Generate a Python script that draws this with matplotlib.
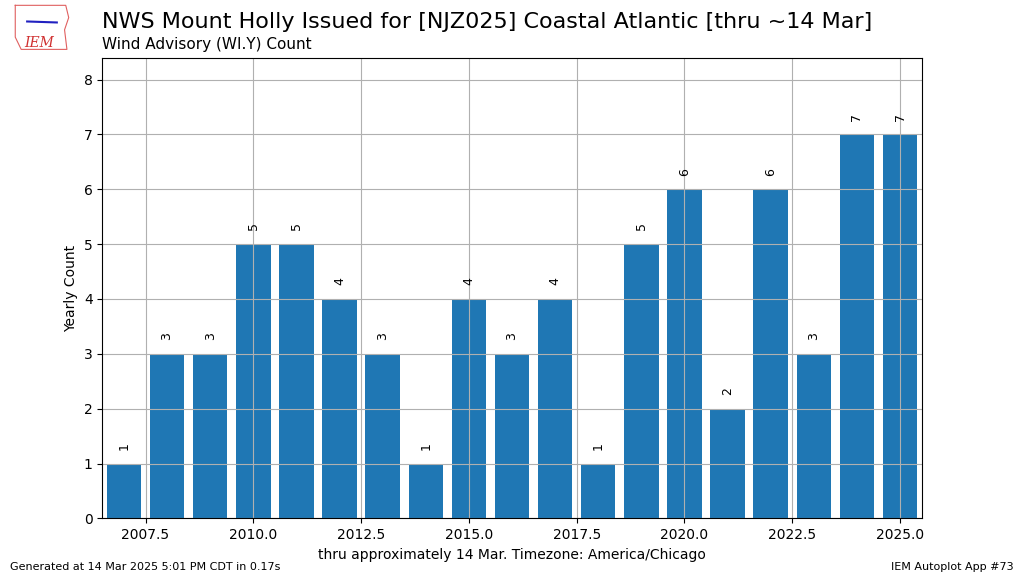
import matplotlib
matplotlib.use("Agg")
import matplotlib.pyplot as plt

# Yearly Wind Advisory counts
years = [2007, 2008, 2009, 2010, 2011, 2012, 2013, 2014, 2015, 2016,
         2017, 2018, 2019, 2020, 2021, 2022, 2023, 2024, 2025]
counts = [1, 3, 3, 5, 5, 4, 3, 1, 4, 3, 4, 1, 5, 6, 2, 6, 3, 7, 7]

fig = plt.figure(figsize=(10.24, 5.76), dpi=100)
ax = fig.add_axes([0.1, 0.1, 0.8, 0.8])

ax.bar(years, counts, width=0.8, color="#1f77b4")
for yr, val in zip(years, counts):
    ax.text(yr, val + 0.25, f"{val}", rotation=90, ha="center", va="bottom", fontsize=9)

ax.set_xlim(2006.5, 2025.5)
ax.set_ylim(0, max(counts) * 1.2)
ax.grid(True)
ax.set_ylabel("Yearly Count")
ax.set_xlabel("thru approximately 14 Mar. Timezone: America/Chicago")

fig.text(0.1, 0.945, "NWS Mount Holly Issued for [NJZ025] Coastal Atlantic [thru ~14 Mar]",
         fontsize=16, va="bottom")
fig.text(0.1, 0.91, "Wind Advisory (WI.Y) Count", fontsize=11, va="bottom")

# simple stand-in for the IEM logo
logo = fig.add_axes([0.012, 0.91, 0.058, 0.085])
logo.plot([0.05, 0.9, 0.95, 0.88, 0.92, 0.15, 0.05, 0.05],
          [0.95, 0.95, 0.7, 0.45, 0.05, 0.05, 0.3, 0.95], color="#e06060", lw=0.8)
logo.plot([0.25, 0.75], [0.62, 0.6], color="#2020c0", lw=1.5)
logo.text(0.45, 0.18, "IEM", color="#d03030", fontsize=10, style="italic",
          family="DejaVu Serif", ha="center", va="center")
logo.set_xlim(0, 1)
logo.set_ylim(0, 1)
logo.axis("off")

fig.text(0.01, 0.01, "Generated at 14 Mar 2025 5:01 PM CDT in 0.17s", fontsize=8)
fig.text(0.99, 0.01, "IEM Autoplot App #73", fontsize=8, ha="right")

plt.savefig("out.png", dpi=100)
plt.close()
